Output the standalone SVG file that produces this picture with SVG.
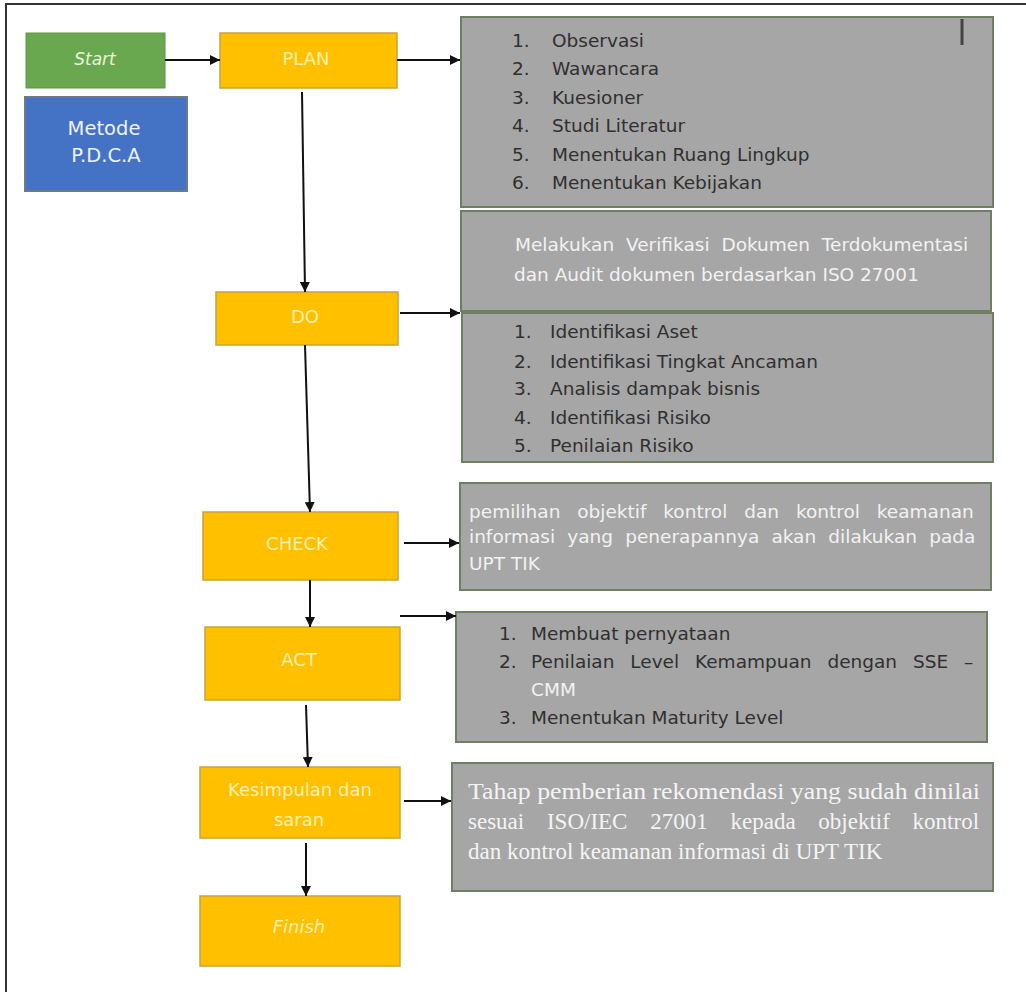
<svg xmlns="http://www.w3.org/2000/svg" width="1026" height="997" viewBox="0 0 1026 997">
<defs>
<marker id="ah" viewBox="0 0 10 10" refX="10" refY="5" markerWidth="10" markerHeight="10" markerUnits="userSpaceOnUse" orient="auto">
<path d="M0,0 L10,5 L0,10 z" fill="#111"/>
</marker>
<style>
.frame{fill:none;stroke:#333;stroke-width:2}
.org{fill:#ffc000;stroke:#c9a43a;stroke-width:1.5}
.gry{fill:#a6a6a6;stroke:#6f7f63;stroke-width:2}
.lbl{font-family:"DejaVu Sans","Liberation Sans",sans-serif;font-size:18px;fill:#fff0b0;text-anchor:middle}
.lst{font-family:"DejaVu Sans","Liberation Sans",sans-serif;font-size:18.5px;fill:#303030}
.par{font-family:"DejaVu Sans","Liberation Sans",sans-serif;font-size:18.5px;fill:#f2f2f2}
.ser{font-family:"Liberation Serif","Times New Roman",serif;font-size:23px;fill:#f4f4f4}
.con{stroke:#111;stroke-width:2;fill:none;marker-end:url(#ah)}
</style>
</defs>
<rect width="1026" height="997" fill="#fff"/>
<path class="frame" d="M6,992 L6,4 L1026,4"/>

<g id="start">
<rect x="26" y="33" width="139" height="55" fill="#6aa84f" stroke="#5e9546" stroke-width="1"/>
<text x="95" y="65" class="lbl" font-style="italic" style="fill:#e8f5dc;font-size:17px">Start</text>
</g>
<g id="metode">
<rect x="25" y="97" width="162" height="94" fill="#4472c4" stroke="#6b7b8a" stroke-width="2"/>
<text x="104" y="135" class="lbl" style="fill:#eef2fb;font-size:19.5px">Metode</text>
<text x="106" y="162" class="lbl" style="fill:#eef2fb;font-size:19.5px">P.D.C.A</text>
</g>
<g id="plan">
<rect x="220" y="33" width="177" height="55" class="org"/>
<text x="306" y="65" class="lbl">PLAN</text>
</g>
<g id="do">
<rect x="216" y="292" width="182" height="53" class="org"/>
<text x="305" y="323" class="lbl">DO</text>
</g>
<g id="check">
<rect x="203" y="512" width="195" height="68" class="org"/>
<text x="297" y="550" class="lbl">CHECK</text>
</g>
<g id="act">
<rect x="205" y="627" width="195" height="73" class="org"/>
<text x="299" y="666" class="lbl">ACT</text>
</g>
<g id="kesimpulan">
<rect x="200" y="767" width="200" height="71" class="org"/>
<text x="300" y="796" class="lbl">Kesimpulan dan</text>
<text x="299" y="826" class="lbl">saran</text>
</g>
<g id="finish">
<rect x="200" y="896" width="200" height="70" class="org"/>
<text x="299" y="933" class="lbl" font-style="italic">Finish</text>
</g>

<g id="plan-list">
<rect x="461" y="17" width="532" height="190" class="gry"/>
<line x1="962" y1="19" x2="962" y2="45" stroke="#444" stroke-width="3"/>
<text class="lst" x="512" y="47">1.</text><text class="lst" x="552" y="47">Observasi</text>
<text class="lst" x="512" y="75">2.</text><text class="lst" x="552" y="75">Wawancara</text>
<text class="lst" x="512" y="104">3.</text><text class="lst" x="552" y="104">Kuesioner</text>
<text class="lst" x="512" y="132">4.</text><text class="lst" x="552" y="132">Studi Literatur</text>
<text class="lst" x="512" y="161">5.</text><text class="lst" x="552" y="161">Menentukan Ruang Lingkup</text>
<text class="lst" x="512" y="189">6.</text><text class="lst" x="552" y="189">Menentukan Kebijakan</text>
</g>
<g id="do-verif">
<rect x="461" y="211" width="530" height="100" class="gry"/>
<text class="par" x="515" y="251" word-spacing="6">Melakukan Verifikasi Dokumen Terdokumentasi</text>
<text class="par" x="514" y="281">dan Audit dokumen berdasarkan ISO 27001</text>
</g>
<g id="do-list">
<rect x="462" y="313" width="531" height="149" class="gry"/>
<text class="lst" x="514" y="338">1.</text><text class="lst" x="550" y="338">Identifikasi Aset</text>
<text class="lst" x="514" y="368">2.</text><text class="lst" x="550" y="368">Identifikasi Tingkat Ancaman</text>
<text class="lst" x="514" y="395">3.</text><text class="lst" x="550" y="395">Analisis dampak bisnis</text>
<text class="lst" x="514" y="424">4.</text><text class="lst" x="550" y="424">Identifikasi Risiko</text>
<text class="lst" x="514" y="452">5.</text><text class="lst" x="550" y="452">Penilaian Risiko</text>
</g>
<g id="check-text">
<rect x="460" y="483" width="531" height="107" class="gry"/>
<text class="par" x="469" y="518" word-spacing="11">pemilihan objektif kontrol dan kontrol keamanan</text>
<text class="par" x="469" y="543" word-spacing="6.3">informasi yang penerapannya akan dilakukan pada</text>
<text class="par" x="469" y="570">UPT TIK</text>
</g>
<g id="act-list">
<rect x="456" y="612" width="531" height="130" class="gry"/>
<text class="lst" x="499" y="640">1.</text><text class="lst" x="531" y="640">Membuat pernyataan</text>
<text class="lst" x="499" y="668">2.</text><text class="lst" x="531" y="668" word-spacing="10">Penilaian Level Kemampuan dengan SSE –</text>
<text class="par" x="531" y="696">CMM</text>
<text class="lst" x="499" y="724">3.</text><text class="lst" x="531" y="724">Menentukan Maturity Level</text>
</g>
<g id="kesimpulan-text">
<rect x="452" y="763" width="541" height="128" class="gry"/>
<text class="ser" x="468" y="799" textLength="512" lengthAdjust="spacingAndGlyphs">Tahap pemberian rekomendasi yang sudah dinilai</text>
<text class="ser" x="468" y="829" word-spacing="17">sesuai ISO/IEC 27001 kepada objektif kontrol</text>
<text class="ser" x="468" y="859">dan kontrol keamanan informasi di UPT TIK</text>
</g>

<g id="connectors">
<line class="con" x1="165" y1="60" x2="220" y2="60"/>
<line class="con" x1="397" y1="60" x2="460" y2="60"/>
<line class="con" x1="302" y1="92" x2="305" y2="292"/>
<line class="con" x1="400" y1="313" x2="460" y2="313"/>
<line class="con" x1="305" y1="345" x2="310" y2="512"/>
<line class="con" x1="404" y1="543" x2="459" y2="543"/>
<line class="con" x1="310" y1="580" x2="310" y2="627"/>
<line class="con" x1="400" y1="616" x2="456" y2="616"/>
<line class="con" x1="306" y1="705" x2="308" y2="767"/>
<line class="con" x1="404" y1="801" x2="451" y2="801"/>
<line class="con" x1="306" y1="843" x2="306" y2="896"/>
</g>
</svg>
